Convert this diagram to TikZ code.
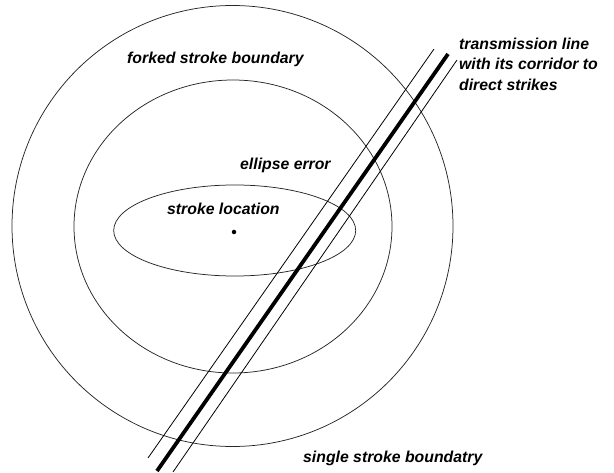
\documentclass[tikz,border=0pt]{standalone}
\usepackage{fontspec}
\setmainfont{Liberation Sans}
\usetikzlibrary{positioning}
\newcommand{\lblfont}{\fontsize{15.8}{20.5}\selectfont\bfseries\itshape}

\begin{document}
\begin{tikzpicture}[x=1pt,y=-1pt,
  bd/.style={line width=0.75pt,black!85},
  corr/.style={line width=0.8pt},
  tline/.style={line width=3.8pt},
  lbl/.style={font=\lblfont,anchor=west,inner sep=0pt,align=left}]
  \useasboundingbox (0,0) rectangle (614,473);
  % boundaries around the stroke location
  \draw[bd] (232.5,226) circle [radius=220.5];
  \draw[bd] (233,226.5) ellipse [x radius=159,y radius=146.5];
  \draw[bd] (234.7,230.5) ellipse [x radius=121,y radius=45.5];
  \node[circle,fill=black,inner sep=0pt,minimum size=4.5pt] (loc) at (234,232) {};
  % transmission line and its corridor
  \coordinate (tlA) at (448,54);   \coordinate (tlB) at (157,471);
  \coordinate (clA) at (434,49);   \coordinate (clB) at (148,458);
  \coordinate (crA) at (457,60);   \coordinate (crB) at (173,472);
  \draw[tline] (tlA) -- (tlB);
  \draw[corr] (clA) -- (clB);
  \draw[corr] (crA) -- (crB);
  % labels
  \node[lbl] (tlab) at (459,64) {transmission line\\with its corridor to\\direct strikes};
  \node[lbl] (forked) at (127,59) {forked stroke boundary};
  \node[lbl] (elerr) at (240,165) {ellipse error};
  \node[lbl] (sloc) at (167,209) {stroke location};
  \node[lbl] (single) at (303,458) {single stroke boundatry};
\end{tikzpicture}
\end{document}
